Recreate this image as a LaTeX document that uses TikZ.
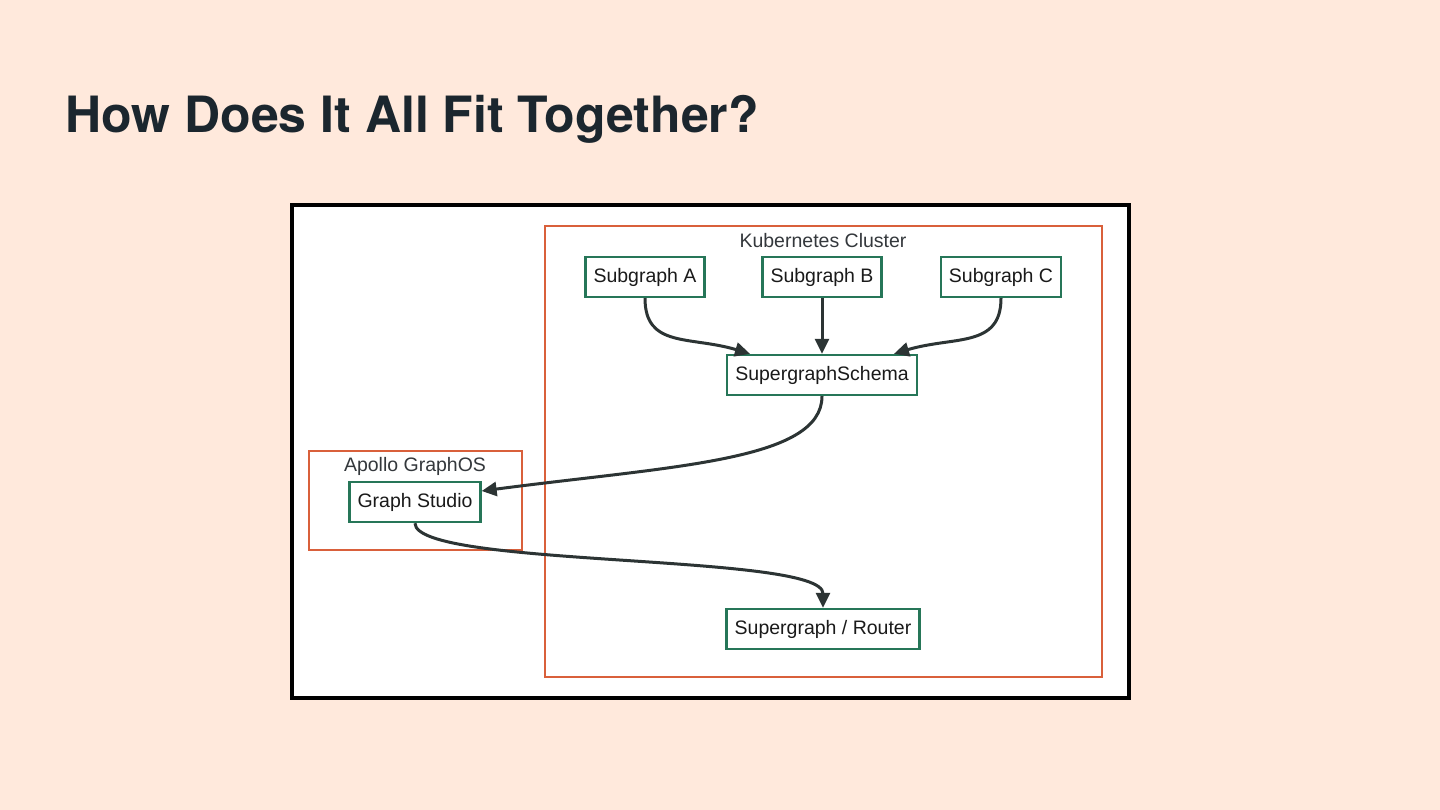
\documentclass[tikz,border=0pt]{standalone}
\usepackage{fontspec}
\setmainfont{Liberation Sans}
\newfontfamily\titlefont{TeX Gyre Heros}
\usetikzlibrary{
  arrows.meta,
  positioning
}
\definecolor{slidebg}{RGB}{255, 233, 220}
\definecolor{titlecolor}{RGB}{27, 38, 46}
\definecolor{clustercolor}{RGB}{217, 96, 59}
\definecolor{servicecolor}{RGB}{38, 118, 88}
\definecolor{arrowcolor}{RGB}{44, 52, 52}
\definecolor{labelcolor}{RGB}{52, 56, 60}
\definecolor{textcolor}{RGB}{26, 26, 26}
\tikzset{
servicebox/.style={
  draw=servicecolor,
  line width=2.4pt,
  fill=white,
  minimum height=40pt,
  inner xsep=8pt,
  font=\fontsize{19.5}{22}\selectfont,
  text=textcolor
},
clusterbox/.style={
  draw=clustercolor,
  line width=2.4pt
},
clusterlabel/.style={
  font=\fontsize{19.5}{22}\selectfont,
  text=labelcolor
},
flow/.style={
  -{Triangle[length=15pt,width=14pt]},
  line width=3pt,
  draw=arrowcolor
}
}
\begin{document}
\begin{tikzpicture}[x=1pt, y=-1pt]
  \useasboundingbox (0,0) rectangle (1440,810);
  \fill[slidebg] (0,0) rectangle (1440,810);

  \node[anchor=base west, text=titlecolor, font=\titlefont\bfseries\fontsize{50}{56}\selectfont] (title) at (62,133) {How Does It All Fit Together?};

  % outer frame
  \draw[line width=4pt, fill=white] (292,205) rectangle (1129,698);

  % clusters
  \draw[clusterbox] (545,226) rectangle (1102,677);
  \node[clusterlabel] (k8slabel) at (823,241) {Kubernetes Cluster};
  \draw[clusterbox] (309,451) rectangle (522,550);
  \node[clusterlabel] (apollolabel) at (415,466) {Apollo GraphOS};

  % services
  \node[servicebox] (sga) at (645,277) {Subgraph A};
  \node[servicebox] (sgb) at (822,277) {Subgraph B};
  \node[servicebox] (sgc) at (1001,277) {Subgraph C};
  \node[servicebox] (schema) at (822,375) {SupergraphSchema};
  \node[servicebox] (studio) at (415,502) {Graph Studio};
  \node[servicebox] (router) at (823,629) {Supergraph / Router};

  \draw[flow] (sga.south) .. controls +(0,50) and +(-60,-18) .. ([xshift=-72pt]schema.north);
  \draw[flow] (sgb) -- (schema);
  \draw[flow] (sgc.south) .. controls +(0,50) and +(60,-18) .. ([xshift=72pt]schema.north);
  \draw[flow] (schema.south) .. controls +(0,65) and +(190,-25) .. ([yshift=11pt]studio.east);
  \draw[flow] (studio.south) .. controls +(0,45) and +(0,-55) .. (router.north);
\end{tikzpicture}
\end{document}
